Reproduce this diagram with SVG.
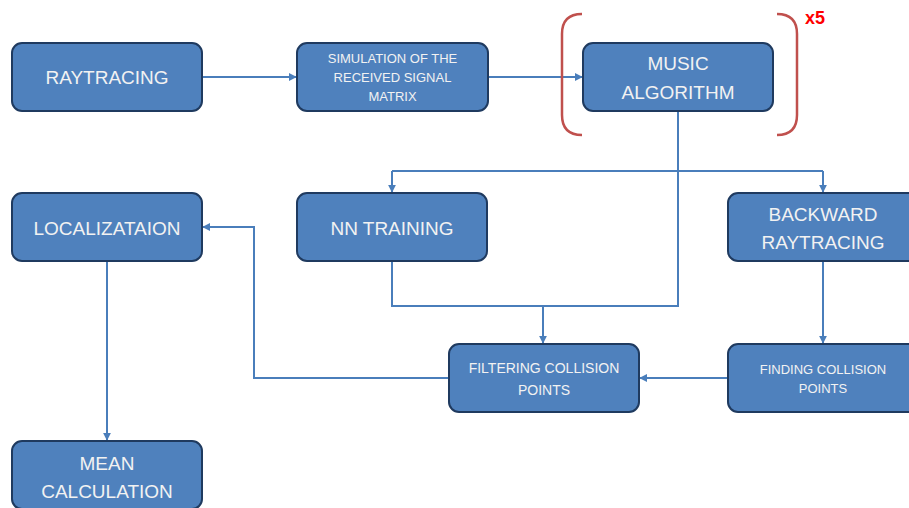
<svg xmlns="http://www.w3.org/2000/svg" width="909" height="508" viewBox="0 0 909 508">
<style>
.box{fill:#4f81bd;stroke:#1f3a5f;stroke-width:2}
.t{font-family:"Liberation Sans",Arial,sans-serif;fill:#f2f2f2;text-anchor:middle}
.b{font-size:19px}
.s13{font-size:13px}
.s14{font-size:14px}
.c{fill:none;stroke:#4a7ebb;stroke-width:2}
</style>
<defs>
<marker id="ah" viewBox="0 0 10 10" refX="9" refY="5" markerWidth="4" markerHeight="4" orient="auto" markerUnits="strokeWidth">
<path d="M0,0 L10,5 L0,10 z" fill="#4a7ebb"/>
</marker>
</defs>
<rect width="909" height="508" fill="#ffffff"/>
<g id="connectors">
<path class="c" d="M202,77 H296" marker-end="url(#ah)"/>
<path class="c" d="M488,77 H582" marker-end="url(#ah)"/>
<path class="c" d="M678,111 V307"/>
<path class="c" d="M392,171 H823"/>
<path class="c" d="M392,171 V192" marker-end="url(#ah)"/>
<path class="c" d="M823,171 V192" marker-end="url(#ah)"/>
<path class="c" d="M392,261 V306 H678"/>
<path class="c" d="M543,306 V343" marker-end="url(#ah)"/>
<path class="c" d="M823,261 V343" marker-end="url(#ah)"/>
<path class="c" d="M728,378 H640" marker-end="url(#ah)"/>
<path class="c" d="M449,378 H254 V227 H203" marker-end="url(#ah)"/>
<path class="c" d="M107,261 V440" marker-end="url(#ah)"/>
</g>
<g id="bracket">
<path d="M582,14 Q562,14 562,34 V115 Q562,135 582,135" fill="none" stroke="#c0504d" stroke-width="2.5"/>
<path d="M777,14 Q797,14 797,34 V115 Q797,135 777,135" fill="none" stroke="#c0504d" stroke-width="2.5"/>
<text x="805" y="24" font-family="Liberation Sans,Arial,sans-serif" font-size="18" font-weight="bold" fill="#ff0000">x5</text>
</g>
<g id="raytracing">
<rect class="box" x="12" y="43" width="190" height="68" rx="10"/>
<text class="t b" x="107" y="84">RAYTRACING</text>
</g>
<g id="simulation">
<rect class="box" x="297" y="43" width="191" height="68" rx="10"/>
<text class="t s13" x="392.5" y="63">SIMULATION OF THE</text>
<text class="t s13" x="392.5" y="82">RECEIVED SIGNAL</text>
<text class="t s13" x="392.5" y="101">MATRIX</text>
</g>
<g id="music">
<rect class="box" x="583" y="43" width="190" height="68" rx="10"/>
<text class="t b" x="678" y="70">MUSIC</text>
<text class="t b" x="678" y="99">ALGORITHM</text>
</g>
<g id="localization">
<rect class="box" x="12" y="193" width="190" height="68" rx="10"/>
<text class="t b" x="107" y="235">LOCALIZATAION</text>
</g>
<g id="nn-training">
<rect class="box" x="297" y="193" width="190" height="68" rx="10"/>
<text class="t b" x="392" y="235">NN TRAINING</text>
</g>
<g id="backward-raytracing">
<rect class="box" x="728" y="193" width="190" height="68" rx="10"/>
<text class="t b" x="823" y="221">BACKWARD</text>
<text class="t b" x="823" y="249">RAYTRACING</text>
</g>
<g id="filtering">
<rect class="box" x="449" y="344" width="190" height="68" rx="10"/>
<text class="t s14" x="544" y="373">FILTERING COLLISION</text>
<text class="t s14" x="544" y="395">POINTS</text>
</g>
<g id="finding">
<rect class="box" x="728" y="344" width="190" height="68" rx="10"/>
<text class="t s13" x="823" y="374">FINDING COLLISION</text>
<text class="t s13" x="823" y="393">POINTS</text>
</g>
<g id="mean">
<rect class="box" x="12" y="441" width="190" height="68" rx="10"/>
<text class="t b" x="107" y="470">MEAN</text>
<text class="t b" x="107" y="498">CALCULATION</text>
</g>
</svg>
